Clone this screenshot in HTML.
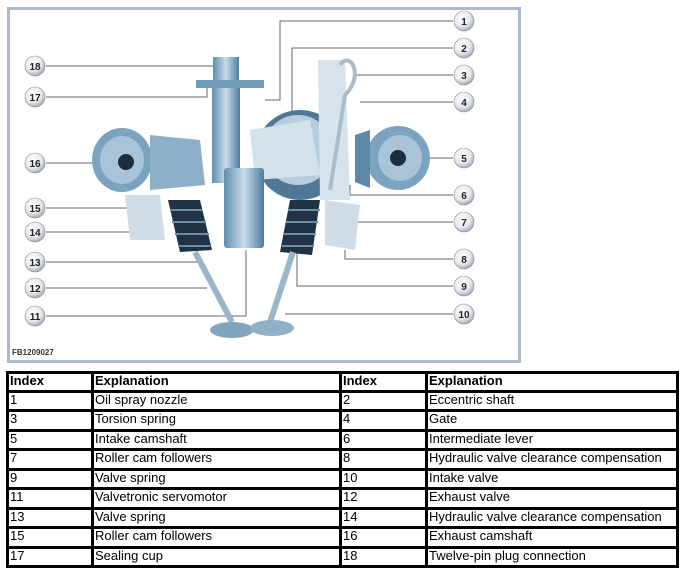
<!DOCTYPE html>
<html><head><meta charset="utf-8"><style>
html,body{margin:0;padding:0;background:#fff;width:683px;height:571px;overflow:hidden;position:relative}
.box{position:absolute;left:7px;top:7px;width:508px;height:350px;border:3px solid #aab9cf;background:#fff}
.h{position:absolute;background:#000;height:3px;left:6px;width:673px}
.v{position:absolute;background:#000;width:3px;top:371px;height:197px}
.t{position:absolute;font-family:"Liberation Sans Narrow","Liberation Sans",sans-serif;font-size:13px;line-height:16px;color:#000;white-space:nowrap}
.b{font-weight:bold}
</style></head><body>
<div class="box"></div>
<svg style="position:absolute;left:0;top:0" width="683" height="571">
<defs>
<radialGradient id="lg" cx="40%" cy="35%" r="70%"><stop offset="0" stop-color="#fff"/><stop offset="0.6" stop-color="#e4e8ee"/><stop offset="1" stop-color="#9aa3ae"/></radialGradient>
<linearGradient id="mg" x1="0" x2="1"><stop offset="0" stop-color="#5f8fb0"/><stop offset="0.5" stop-color="#c9dbe8"/><stop offset="1" stop-color="#4d7ea0"/></linearGradient>
</defs>
<g stroke="#666" stroke-width="1" fill="none">
<path d="M46 66H218"/><path d="M46 97H207V86"/><path d="M46 163H95"/><path d="M46 208H155"/><path d="M46 232H140"/><path d="M46 262H197V250"/><path d="M46 288H207"/><path d="M46 316H246V250"/>
<path d="M453 21H280V100H265"/><path d="M453 48H292V130"/><path d="M453 75H355"/><path d="M453 102H360"/><path d="M453 158H430"/><path d="M453 195H350V185"/><path d="M453 222H355V210"/><path d="M453 259H345V250"/><path d="M453 286H297V250"/><path d="M453 314H285"/>
</g>
<!-- camshafts -->
<ellipse cx="122" cy="160" rx="30" ry="32" fill="#7aa3c0"/><ellipse cx="122" cy="160" rx="22" ry="24" fill="#a9c4d8"/><circle cx="126" cy="162" r="8" fill="#1b2e40"/>
<path d="M150 135 L200 140 L205 185 L150 190Z" fill="#8db0c9"/>
<ellipse cx="398" cy="158" rx="32" ry="32" fill="#7aa3c0"/><ellipse cx="400" cy="158" rx="22" ry="23" fill="#a9c4d8"/><circle cx="398" cy="158" r="8" fill="#1b2e40"/>
<path d="M355 135 L370 130 L370 188 L355 182Z" fill="#5d88a8"/>
<!-- gear and eccentric -->
<circle cx="300" cy="155" r="45" fill="#4f7897"/><circle cx="298" cy="150" r="35" fill="#b7cddc"/>
<path d="M250 130 L310 120 L320 175 L255 180Z" fill="#d3e1eb"/>
<!-- lever & spring -->
<path d="M318 60 L345 60 L350 200 L320 200Z" fill="#d7e3ec"/>
<path d="M340 65 C350 50 365 75 345 95 L330 190" stroke="#a8bcca" stroke-width="4" fill="none"/>
<!-- servomotor column -->
<rect x="213" y="57" width="26" height="25" fill="url(#mg)"/>
<rect x="196" y="80" width="68" height="8" fill="#6f9ab8"/>
<rect x="212" y="88" width="28" height="95" fill="url(#mg)"/>
<rect x="224" y="168" width="40" height="80" rx="3" fill="url(#mg)"/>
<!-- springs -->
<g fill="#1f3345">
<path d="M168 200 L200 200 L212 250 L180 252Z"/>
<path d="M290 200 L320 200 L312 255 L280 252Z"/>
</g>
<g stroke="#6d8da5" stroke-width="2"><path d="M170 210h32M172 222h34M175 234h34M178 246h32M288 210h32M286 222h32M284 234h32M282 246h32"/></g>
<!-- rollers -->
<path d="M125 195 L160 195 L165 240 L130 240Z" fill="#cfdde8"/>
<path d="M325 200 L360 205 L355 250 L325 245Z" fill="#cfdde8"/>
<!-- valves -->
<g stroke="#9ab6ca" stroke-width="6"><path d="M195 252 L232 322"/><path d="M293 252 L270 322"/></g>
<ellipse cx="232" cy="330" rx="22" ry="8" fill="#7fa5bf"/><ellipse cx="272" cy="328" rx="22" ry="8" fill="#8fb1c8"/>
<!-- labels -->
<g font-family="Liberation Sans,sans-serif" font-size="10" font-weight="bold" text-anchor="middle" fill="#222">
<g fill="url(#lg)" stroke="#888" stroke-width="0.6">
<circle cx="35" cy="66" r="10"/><circle cx="35" cy="97" r="10"/><circle cx="35" cy="163" r="10"/><circle cx="35" cy="208" r="10"/><circle cx="35" cy="232" r="10"/><circle cx="35" cy="262" r="10"/><circle cx="35" cy="288" r="10"/><circle cx="35" cy="316" r="10"/>
<circle cx="464" cy="21" r="10"/><circle cx="464" cy="48" r="10"/><circle cx="464" cy="75" r="10"/><circle cx="464" cy="102" r="10"/><circle cx="464" cy="158" r="10"/><circle cx="464" cy="195" r="10"/><circle cx="464" cy="222" r="10"/><circle cx="464" cy="259" r="10"/><circle cx="464" cy="286" r="10"/><circle cx="464" cy="314" r="10"/>
</g>
<text x="35" y="70">18</text><text x="35" y="101">17</text><text x="35" y="167">16</text><text x="35" y="212">15</text><text x="35" y="236">14</text><text x="35" y="266">13</text><text x="35" y="292">12</text><text x="35" y="320">11</text>
<text x="464" y="25">1</text><text x="464" y="52">2</text><text x="464" y="79">3</text><text x="464" y="106">4</text><text x="464" y="162">5</text><text x="464" y="199">6</text><text x="464" y="226">7</text><text x="464" y="263">8</text><text x="464" y="290">9</text><text x="464" y="318">10</text>
</g>
<text x="12" y="355" font-family="Liberation Sans,sans-serif" font-size="8" font-weight="bold" fill="#333">FB1209027</text>
</svg>
<div class="h" style="top:371px"></div><div class="h" style="top:390px"></div><div class="h" style="top:409px"></div><div class="h" style="top:429px"></div><div class="h" style="top:448px"></div><div class="h" style="top:468px"></div><div class="h" style="top:487px"></div><div class="h" style="top:507px"></div><div class="h" style="top:526px"></div><div class="h" style="top:546px"></div><div class="h" style="top:565px"></div>
<div class="v" style="left:6px"></div><div class="v" style="left:91px"></div><div class="v" style="left:339px"></div><div class="v" style="left:425px"></div><div class="v" style="left:676px"></div>
<div class="t b" style="left:10px;top:373px">Index</div><div class="t b" style="left:95px;top:373px">Explanation</div><div class="t b" style="left:343px;top:373px">Index</div><div class="t b" style="left:429px;top:373px">Explanation</div>
<div class="t" style="left:10px;top:392px">1</div><div class="t" style="left:95px;top:392px">Oil spray nozzle</div><div class="t" style="left:343px;top:392px">2</div><div class="t" style="left:429px;top:392px">Eccentric shaft</div>
<div class="t" style="left:10px;top:411px">3</div><div class="t" style="left:95px;top:411px">Torsion spring</div><div class="t" style="left:343px;top:411px">4</div><div class="t" style="left:429px;top:411px">Gate</div>
<div class="t" style="left:10px;top:431px">5</div><div class="t" style="left:95px;top:431px">Intake camshaft</div><div class="t" style="left:343px;top:431px">6</div><div class="t" style="left:429px;top:431px">Intermediate lever</div>
<div class="t" style="left:10px;top:450px">7</div><div class="t" style="left:95px;top:450px">Roller cam followers</div><div class="t" style="left:343px;top:450px">8</div><div class="t" style="left:429px;top:450px">Hydraulic valve clearance compensation</div>
<div class="t" style="left:10px;top:470px">9</div><div class="t" style="left:95px;top:470px">Valve spring</div><div class="t" style="left:343px;top:470px">10</div><div class="t" style="left:429px;top:470px">Intake valve</div>
<div class="t" style="left:10px;top:489px">11</div><div class="t" style="left:95px;top:489px">Valvetronic servomotor</div><div class="t" style="left:343px;top:489px">12</div><div class="t" style="left:429px;top:489px">Exhaust valve</div>
<div class="t" style="left:10px;top:509px">13</div><div class="t" style="left:95px;top:509px">Valve spring</div><div class="t" style="left:343px;top:509px">14</div><div class="t" style="left:429px;top:509px">Hydraulic valve clearance compensation</div>
<div class="t" style="left:10px;top:528px">15</div><div class="t" style="left:95px;top:528px">Roller cam followers</div><div class="t" style="left:343px;top:528px">16</div><div class="t" style="left:429px;top:528px">Exhaust camshaft</div>
<div class="t" style="left:10px;top:548px">17</div><div class="t" style="left:95px;top:548px">Sealing cup</div><div class="t" style="left:343px;top:548px">18</div><div class="t" style="left:429px;top:548px">Twelve-pin plug connection</div>
</body></html>
